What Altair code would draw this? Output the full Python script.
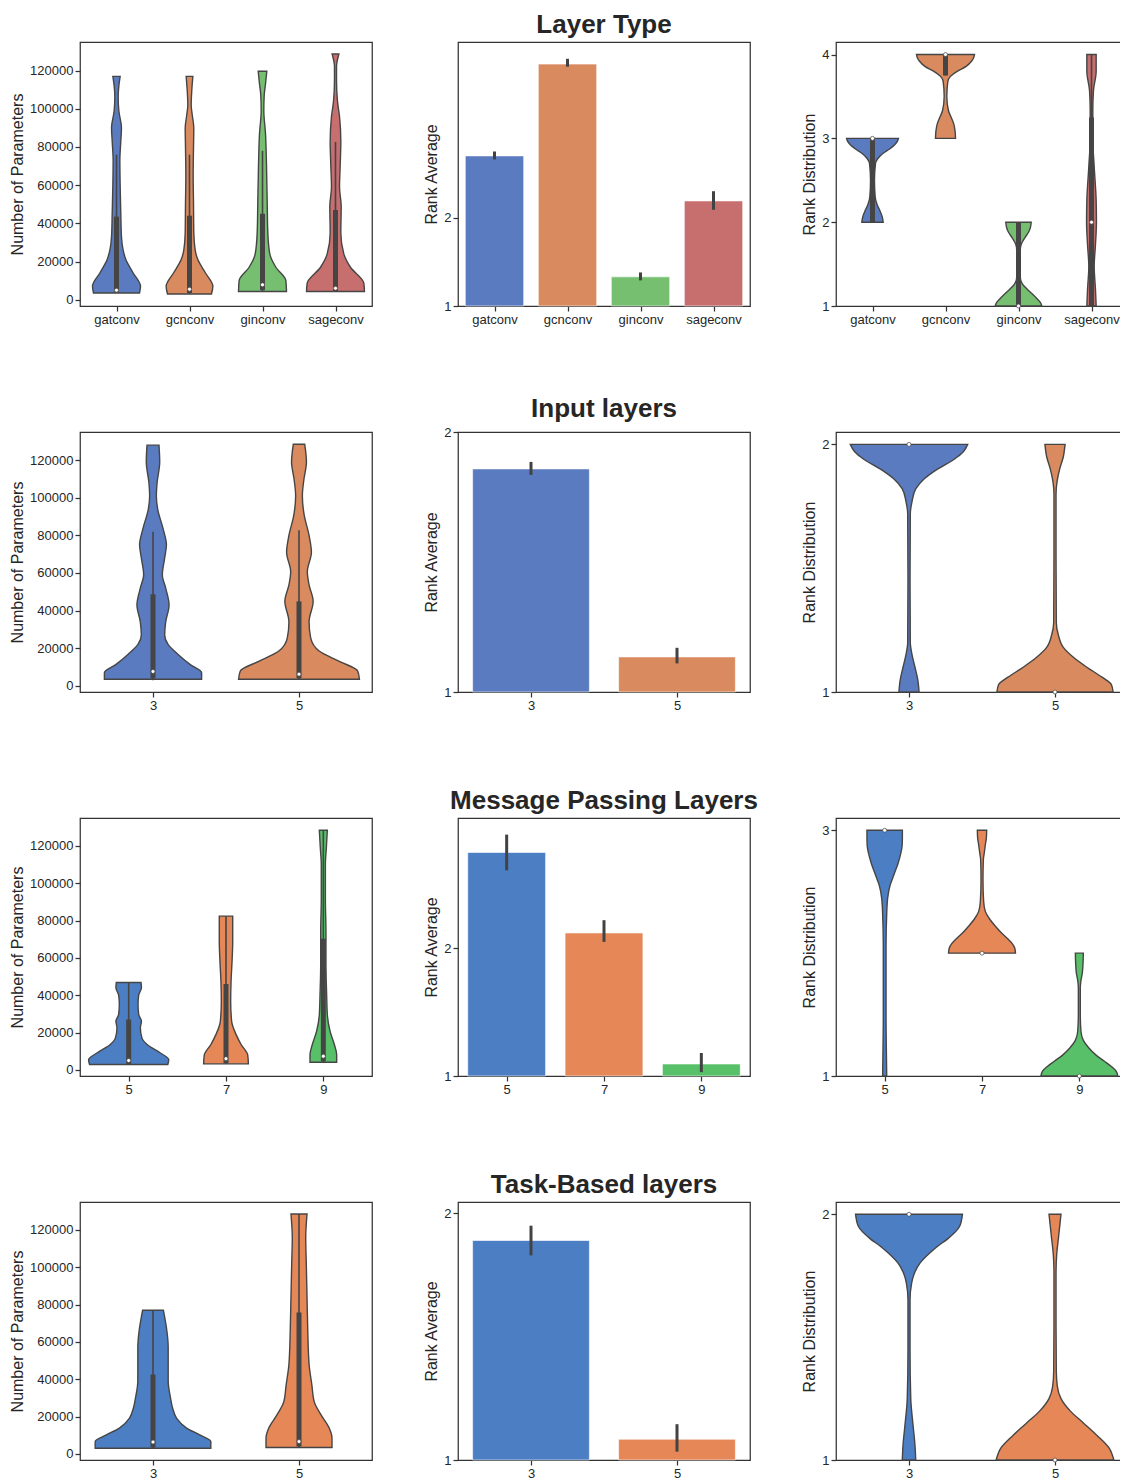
import json
import altair as alt
import pandas as pd

FONT = "Liberation Sans"
TEXT = "#262626"
FRAME = "#333333"
GRAY = "#454545"
ERRC = "#424242"

PAL_A = ["#5a7bbf", "#d98b5f", "#76bf71", "#c76e6e"]
PAL_B = ["#4c7ec4", "#e68758", "#58c068"]

PARAM_DOMAIN = [-3300, 135000]
PARAM_TICKS = [0, 20000, 40000, 60000, 80000, 100000, 120000]

# ---------------- Row 1: Layer Type ----------------
LT_CATS = ["gatconv", "gcnconv", "ginconv", "sageconv"]
LT_PARAM_Y = [
    [3500, 7000, 14000, 21000, 26000, 33000, 45000, 60000, 73000, 83000, 90000, 99000, 106000, 112000, 117000],
    [3000, 7000, 14000, 21000, 26000, 35000, 50000, 65000, 80000, 90000, 97000, 102000, 110000, 117000],
    [4300, 10000, 17000, 24000, 35000, 52000, 70000, 87000, 99000, 107000, 113000, 119700],
    [4300, 8700, 17000, 24000, 35000, 49000, 59000, 70000, 83000, 96000, 104000, 115000, 122000, 128700],
]
LT_PARAM_W = [
    [0.315, 0.329, 0.228, 0.128, 0.091, 0.068, 0.059, 0.050, 0.046, 0.059, 0.068, 0.032, 0.023, 0.032, 0.050],
    [0.301, 0.320, 0.219, 0.114, 0.078, 0.059, 0.055, 0.050, 0.055, 0.059, 0.037, 0.023, 0.032, 0.046],
    [0.329, 0.320, 0.183, 0.100, 0.073, 0.064, 0.055, 0.041, 0.018, 0.023, 0.041, 0.059],
    [0.397, 0.388, 0.205, 0.114, 0.073, 0.078, 0.055, 0.064, 0.073, 0.055, 0.027, 0.014, 0.014, 0.046],
]
LT_PARAM_WLO = [3500, 3000, 4300, 4300]
LT_PARAM_Q1 = [4000, 3500, 5000, 4500]
LT_PARAM_MED = [5000, 5500, 7800, 6000]
LT_PARAM_Q3 = [43500, 44000, 45000, 47000]
LT_PARAM_WHI = [76000, 76000, 78000, 82600]

LT_MEAN = [2.70, 3.74, 1.33, 2.19]
LT_ERR_LO = [2.66, 3.71, 1.29, 2.09]
LT_ERR_HI = [2.75, 3.80, 1.38, 2.30]

LT_RANK_Y = [
    [2.0, 2.07, 2.14, 2.22, 2.3, 2.5, 2.7, 2.76, 2.82, 2.87, 2.92, 2.96, 3.0],
    [3.0, 3.08, 3.17, 3.26, 3.33, 3.5, 3.68, 3.74, 3.8, 3.86, 3.92, 3.96, 4.0],
    [1.0, 1.04, 1.09, 1.15, 1.2, 1.26, 1.32, 1.5, 1.7, 1.76, 1.82, 1.88, 1.94, 2.0],
    [1.0, 1.19, 1.47, 1.74, 2.0, 2.26, 2.66, 3.0, 3.33, 3.57, 3.8, 4.0],
]
LT_RANK_W = [
    [0.146, 0.132, 0.100, 0.059, 0.037, 0.027, 0.041, 0.073, 0.142, 0.228, 0.301, 0.338, 0.356],
    [0.137, 0.132, 0.114, 0.073, 0.041, 0.018, 0.032, 0.068, 0.160, 0.283, 0.356, 0.384, 0.397],
    [0.320, 0.301, 0.251, 0.183, 0.119, 0.055, 0.027, 0.018, 0.027, 0.050, 0.091, 0.137, 0.164, 0.174],
    [0.064, 0.055, 0.037, 0.055, 0.068, 0.064, 0.037, 0.018, 0.018, 0.027, 0.064, 0.064],
]
LT_RANK_WLO = [2, 3.75, 1, 1]
LT_RANK_Q1 = [2, 3.75, 1, 1]
LT_RANK_MED = [3, 4, 1, 2]
LT_RANK_Q3 = [3, 4, 2, 3.25]
LT_RANK_WHI = [3, 4, 2, 4]

# ---------------- Row 2: Input layers ----------------
IN_CATS = ["3", "5"]
IN_PARAM_Y = [
    [3500, 7000, 11400, 16700, 22000, 27000, 34000, 43000, 52000, 59000, 68000, 75000, 83600, 94000, 101000, 108000, 119000, 128000],
    [3500, 7900, 13000, 18500, 25500, 34000, 45000, 53700, 60700, 71000, 80000, 90600, 101000, 110000, 119000, 128500],
]
IN_PARAM_W = [
    [0.333, 0.333, 0.253, 0.172, 0.103, 0.080, 0.087, 0.110, 0.087, 0.064, 0.080, 0.092, 0.069, 0.032, 0.023, 0.028, 0.046, 0.041],
    [0.414, 0.402, 0.276, 0.138, 0.080, 0.069, 0.097, 0.069, 0.057, 0.085, 0.069, 0.036, 0.023, 0.034, 0.051, 0.039],
]
IN_PARAM_WLO = [3000, 3500]
IN_PARAM_Q1 = [4000, 4000]
IN_PARAM_MED = [7600, 6200]
IN_PARAM_Q3 = [48700, 44900]
IN_PARAM_WHI = [82000, 82700]

IN_MEAN = [1.858, 1.135]
IN_ERR_LO = [1.835, 1.11]
IN_ERR_HI = [1.885, 1.17]

IN_RANK_Y = [
    [1.0, 1.05, 1.1, 1.15, 1.2, 1.45, 1.72, 1.77, 1.82, 1.86, 1.9, 1.94, 1.97, 2.0],
    [1.0, 1.03, 1.06, 1.1, 1.14, 1.18, 1.23, 1.28, 1.55, 1.8, 1.85, 1.9, 1.95, 2.0],
]
IN_RANK_W = [
    [0.069, 0.060, 0.041, 0.021, 0.009, 0.007, 0.009, 0.021, 0.046, 0.103, 0.195, 0.310, 0.372, 0.402],
    [0.398, 0.386, 0.322, 0.218, 0.126, 0.057, 0.023, 0.009, 0.007, 0.007, 0.014, 0.032, 0.057, 0.069],
]
IN_RANK_MED = [2, 1]

# ---------------- Row 3: Message Passing Layers ----------------
MP_CATS = ["5", "7", "9"]
MP_PARAM_Y = [
    [2900, 5500, 9000, 13600, 17000, 22500, 26000, 29700, 35000, 40000, 44000, 46800],
    [3200, 8000, 13600, 19000, 26000, 36800, 47500, 58000, 69000, 76000, 82400],
    [4100, 8200, 13600, 20700, 29700, 40400, 56500, 74000, 92000, 110000, 119000, 128400],
]
MP_PARAM_W = [
    [0.402, 0.412, 0.326, 0.189, 0.137, 0.120, 0.131, 0.103, 0.096, 0.103, 0.131, 0.127],
    [0.230, 0.223, 0.155, 0.103, 0.058, 0.048, 0.052, 0.062, 0.069, 0.069, 0.069],
    [0.137, 0.137, 0.113, 0.069, 0.041, 0.034, 0.027, 0.027, 0.021, 0.021, 0.031, 0.041],
]
MP_PARAM_WLO = [2900, 3200, 4100]
MP_PARAM_Q1 = [3000, 3500, 4500]
MP_PARAM_MED = [5000, 6000, 7300]
MP_PARAM_Q3 = [27000, 46000, 70300]
MP_PARAM_WHI = [46800, 82400, 128400]

MP_MEAN = [2.75, 2.12, 1.094]
MP_ERR_LO = [2.61, 2.05, 1.03]
MP_ERR_HI = [2.89, 2.22, 1.18]

MP_RANK_Y = [
    [1.0, 1.23, 1.5, 2.05, 2.32, 2.45, 2.55, 2.64, 2.73, 2.8, 2.87, 2.94, 3.0],
    [2.0, 2.04, 2.08, 2.12, 2.16, 2.22, 2.28, 2.34, 2.42, 2.6, 2.76, 2.82, 2.88, 2.94, 3.0],
    [1.0, 1.04, 1.08, 1.12, 1.17, 1.23, 1.29, 1.36, 1.5, 1.72, 1.78, 1.84, 1.92, 2.0],
]
MP_RANK_W = [
    [0.021, 0.017, 0.014, 0.014, 0.021, 0.031, 0.055, 0.096, 0.137, 0.162, 0.179, 0.182, 0.182],
    [0.344, 0.337, 0.309, 0.261, 0.206, 0.137, 0.076, 0.034, 0.017, 0.010, 0.014, 0.024, 0.034, 0.045, 0.048],
    [0.395, 0.378, 0.326, 0.258, 0.172, 0.096, 0.041, 0.017, 0.010, 0.010, 0.017, 0.031, 0.038, 0.041],
]
MP_RANK_MED = [3, 2, 1]

# ---------------- Row 4: Task-Based layers ----------------
TB_CATS = ["3", "5"]
TB_PARAM_Y = [
    [3000, 6600, 10000, 13800, 19200, 24600, 30000, 39000, 48000, 57000, 66000, 71000, 77000],
    [3400, 8400, 13800, 21000, 28000, 37000, 48000, 66000, 84000, 101700, 116000, 128600],
]
TB_PARAM_W = [
    [0.396, 0.396, 0.323, 0.230, 0.161, 0.134, 0.120, 0.104, 0.104, 0.104, 0.095, 0.085, 0.071],
    [0.226, 0.226, 0.207, 0.150, 0.104, 0.088, 0.069, 0.060, 0.055, 0.050, 0.046, 0.055],
]
TB_PARAM_WLO = [3000, 3400]
TB_PARAM_Q1 = [3500, 4000]
TB_PARAM_MED = [6300, 6600]
TB_PARAM_Q3 = [42500, 75700]
TB_PARAM_WHI = [77000, 128600]

TB_MEAN = [1.889, 1.084]
TB_ERR_LO = [1.829, 1.034]
TB_ERR_HI = [1.949, 1.145]

TB_RANK_Y = [
    [1.0, 1.06, 1.14, 1.25, 1.45, 1.65, 1.72, 1.76, 1.8, 1.84, 1.87, 1.9, 1.95, 2.0],
    [1.0, 1.05, 1.1, 1.15, 1.2, 1.25, 1.3, 1.36, 1.55, 1.76, 1.84, 1.9, 1.95, 2.0],
]
TB_RANK_W = [
    [0.046, 0.041, 0.028, 0.012, 0.007, 0.007, 0.018, 0.037, 0.074, 0.138, 0.196, 0.265, 0.346, 0.366],
    [0.403, 0.369, 0.288, 0.196, 0.104, 0.041, 0.016, 0.009, 0.007, 0.007, 0.012, 0.023, 0.032, 0.041],
]
TB_RANK_MED = [2, 1]

W = 292


def x_enc(field, cats):
    n = len(cats)
    expr = json.dumps(list(cats)) + "[round(datum.value)]"
    return alt.X(field, scale=alt.Scale(domain=[-0.5, n - 0.5], nice=False, zero=False),
                 axis=alt.Axis(values=list(range(n)), labelExpr=expr, title=None), stack=None)


def y_enc(field, dom, ticks, title, fmt="d"):
    return alt.Y(field, scale=alt.Scale(domain=dom, nice=False, zero=False),
                 axis=alt.Axis(values=ticks, title=title, format=fmt), stack=None)


def violin_panel(cats, ys, ws, colors, dom, ticks, title, h, med, box=None):
    n = len(cats)
    prof = pd.DataFrame([{"cat": c, "idx": i, "v": y, "w": w}
                         for i, c in enumerate(cats) for y, w in zip(ys[i], ws[i])])
    color = alt.Color("cat:N", scale=alt.Scale(domain=list(cats), range=colors[:n]), legend=None)
    area = alt.Chart(prof).transform_calculate(
        lo="datum.idx - datum.w", hi="datum.idx + datum.w"
    ).mark_area(orient="horizontal", interpolate="monotone", stroke=GRAY,
                strokeWidth=1.4, fillOpacity=1).encode(
        y=y_enc("v:Q", dom, ticks, title),
        x=x_enc("lo:Q", cats),
        x2="hi:Q",
        color=color,
        detail="cat:N",
    )
    layers = [area]
    stats = {"idx": list(range(n)), "med": med}
    if box is not None:
        wlo, q1, q3, whi = box
        stats.update({"wlo": wlo, "q1": q1, "q3": q3, "whi": whi})
    sdf = pd.DataFrame(stats)
    if box is not None:
        whisk = alt.Chart(sdf).mark_rule(color=GRAY, strokeWidth=1.6).encode(
            x=x_enc("idx:Q", cats), y=y_enc("wlo:Q", dom, ticks, title), y2="whi:Q")
        bx = alt.Chart(sdf).mark_rule(color=GRAY, strokeWidth=5).encode(
            x=x_enc("idx:Q", cats), y=y_enc("q1:Q", dom, ticks, title), y2="q3:Q")
        layers += [whisk, bx]
    pt = alt.Chart(sdf).mark_point(filled=True, fill="white", stroke=GRAY, strokeWidth=0.7,
                                   size=16, opacity=1).encode(
        x=x_enc("idx:Q", cats), y=y_enc("med:Q", dom, ticks, title))
    layers.append(pt)
    return alt.layer(*layers).properties(width=W, height=h)


def bar_panel(cats, means, elo, ehi, colors, dom, h, head):
    n = len(cats)
    df = pd.DataFrame({"cat": cats, "idx": list(range(n)), "mean": means, "elo": elo, "ehi": ehi})
    color = alt.Color("cat:N", scale=alt.Scale(domain=list(cats), range=colors[:n]), legend=None)
    bars = alt.Chart(df).transform_calculate(
        l="datum.idx - 0.4", r="datum.idx + 0.4", base="1"
    ).mark_bar(stroke="white", strokeWidth=1, strokeOpacity=0.6).encode(
        x=x_enc("l:Q", cats), x2="r:Q",
        y=y_enc("mean:Q", dom, [1, 2], "Rank Average"), y2="base:Q",
        color=color,
    )
    err = alt.Chart(df).mark_rule(color=ERRC, strokeWidth=3).encode(
        x=x_enc("idx:Q", cats), y=y_enc("elo:Q", dom, [1, 2], "Rank Average"), y2="ehi:Q")
    return alt.layer(bars, err).properties(
        width=W, height=h,
        title=alt.TitleParams(head, font=FONT, fontSize=26, fontWeight="bold", color=TEXT,
                              offset=4, anchor="middle"))


rows = [
    dict(cats=LT_CATS, pal=PAL_A, h=264, head="Layer Type",
         py=LT_PARAM_Y, pw=LT_PARAM_W, pmed=LT_PARAM_MED,
         pbox=(LT_PARAM_WLO, LT_PARAM_Q1, LT_PARAM_Q3, LT_PARAM_WHI),
         mean=LT_MEAN, elo=LT_ERR_LO, ehi=LT_ERR_HI, bdom=[1, 3.99],
         ry=LT_RANK_Y, rw=LT_RANK_W, rmed=LT_RANK_MED,
         rbox=(LT_RANK_WLO, LT_RANK_Q1, LT_RANK_Q3, LT_RANK_WHI),
         rdom=[1, 4.15], rticks=[1, 2, 3, 4]),
    dict(cats=IN_CATS, pal=PAL_A, h=260, head="Input layers",
         py=IN_PARAM_Y, pw=IN_PARAM_W, pmed=IN_PARAM_MED,
         pbox=(IN_PARAM_WLO, IN_PARAM_Q1, IN_PARAM_Q3, IN_PARAM_WHI),
         mean=IN_MEAN, elo=IN_ERR_LO, ehi=IN_ERR_HI, bdom=[1, 2.0],
         ry=IN_RANK_Y, rw=IN_RANK_W, rmed=IN_RANK_MED, rbox=None,
         rdom=[1, 2.05], rticks=[1, 2]),
    dict(cats=MP_CATS, pal=PAL_B, h=258, head="Message Passing Layers",
         py=MP_PARAM_Y, pw=MP_PARAM_W, pmed=MP_PARAM_MED,
         pbox=(MP_PARAM_WLO, MP_PARAM_Q1, MP_PARAM_Q3, MP_PARAM_WHI),
         mean=MP_MEAN, elo=MP_ERR_LO, ehi=MP_ERR_HI, bdom=[1, 3.02],
         ry=MP_RANK_Y, rw=MP_RANK_W, rmed=MP_RANK_MED, rbox=None,
         rdom=[1, 3.10], rticks=[1, 2, 3]),
    dict(cats=TB_CATS, pal=PAL_B, h=258, head="Task-Based layers",
         py=TB_PARAM_Y, pw=TB_PARAM_W, pmed=TB_PARAM_MED,
         pbox=(TB_PARAM_WLO, TB_PARAM_Q1, TB_PARAM_Q3, TB_PARAM_WHI),
         mean=TB_MEAN, elo=TB_ERR_LO, ehi=TB_ERR_HI, bdom=[1, 2.045],
         ry=TB_RANK_Y, rw=TB_RANK_W, rmed=TB_RANK_MED, rbox=None,
         rdom=[1, 2.05], rticks=[1, 2]),
]

panels = []
for r in rows:
    panels.append(violin_panel(r["cats"], r["py"], r["pw"], r["pal"], PARAM_DOMAIN, PARAM_TICKS,
                               "Number of Parameters", r["h"], r["pmed"], r["pbox"]))
    panels.append(bar_panel(r["cats"], r["mean"], r["elo"], r["ehi"], r["pal"], r["bdom"],
                            r["h"], r["head"]))
    panels.append(violin_panel(r["cats"], r["ry"], r["rw"], r["pal"], r["rdom"], r["rticks"],
                               "Rank Distribution", r["h"], r["rmed"], r["rbox"]))

chart = alt.concat(*panels, columns=3, spacing={"row": 126, "column": 86}, bounds="flush")
chart = chart.resolve_scale(color="independent")
chart = chart.configure_view(stroke=FRAME, strokeWidth=1.25).configure_axis(
    labelFont=FONT, labelFontSize=13, labelColor=TEXT, labelFlush=False,
    titleFont=FONT, titleFontSize=16, titleColor=TEXT, titleFontWeight="normal",
    domain=False, grid=False, ticks=True, tickColor=FRAME, tickWidth=1.25, tickSize=5,
    labelPadding=2, titlePadding=4,
).properties(padding={"left": 0, "top": 3, "right": -9, "bottom": 0}, background="white")

chart.save("out.html", embed_options={"renderer": "svg", "actions": False})
